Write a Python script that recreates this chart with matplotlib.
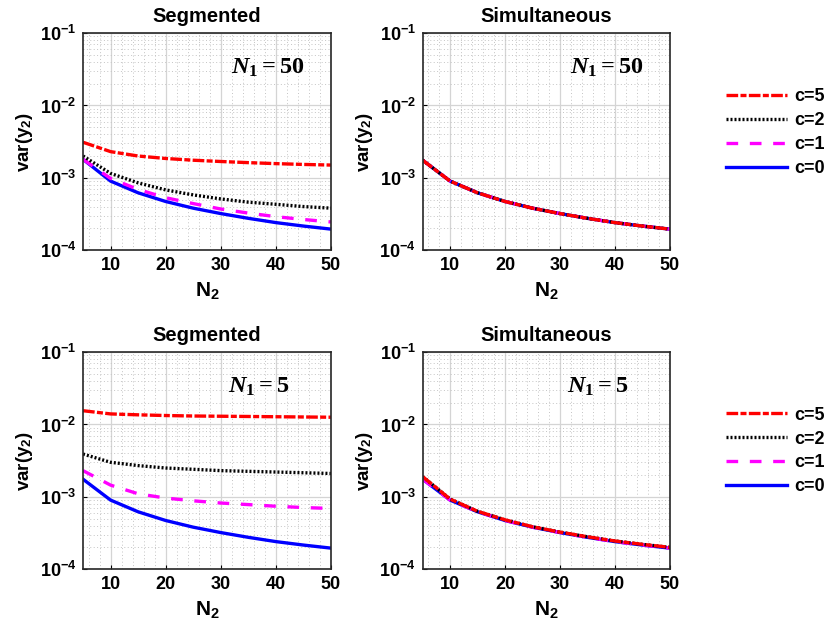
import numpy as np
import matplotlib.pyplot as plt
from matplotlib.ticker import LogLocator, MultipleLocator, FixedLocator, FuncFormatter
from matplotlib.lines import Line2D

plt.rcParams['font.family'] = 'Liberation Sans'
plt.rcParams['font.weight'] = 'bold'
plt.rcParams['mathtext.fontset'] = 'custom'
plt.rcParams['mathtext.rm'] = 'Liberation Serif'
plt.rcParams['mathtext.it'] = 'Liberation Serif:italic'
plt.rcParams['mathtext.bf'] = 'Liberation Sans:bold'

n2 = [5, 10, 15, 20, 25, 30, 35, 40, 45, 50]

# N1 = 50, segmented
seg50_c0 = [1.8e-3, 9.0e-4, 6.2e-4, 4.7e-4, 3.8e-4, 3.2e-4, 2.75e-4, 2.4e-4, 2.15e-4, 1.95e-4]
seg50_c1 = [1.8e-3, 9.8e-4, 6.9e-4, 5.3e-4, 4.4e-4, 3.7e-4, 3.25e-4, 2.9e-4, 2.65e-4, 2.45e-4]
seg50_c2 = [2.0e-3, 1.15e-3, 8.5e-4, 6.8e-4, 5.8e-4, 5.1e-4, 4.6e-4, 4.3e-4, 4.0e-4, 3.8e-4]
seg50_c5 = [3.1e-3, 2.3e-3, 2.0e-3, 1.85e-3, 1.75e-3, 1.68e-3, 1.62e-3, 1.57e-3, 1.53e-3, 1.5e-3]

# N1 = 5, segmented
seg5_c0 = [1.75e-3, 9.0e-4, 6.2e-4, 4.7e-4, 3.8e-4, 3.2e-4, 2.75e-4, 2.4e-4, 2.15e-4, 1.95e-4]
seg5_c1 = [2.3e-3, 1.45e-3, 1.1e-3, 9.6e-4, 8.8e-4, 8.2e-4, 7.8e-4, 7.4e-4, 7.1e-4, 6.9e-4]
seg5_c2 = [3.9e-3, 3.0e-3, 2.7e-3, 2.5e-3, 2.4e-3, 2.3e-3, 2.25e-3, 2.2e-3, 2.15e-3, 2.1e-3]
seg5_c5 = [1.55e-2, 1.4e-2, 1.36e-2, 1.33e-2, 1.31e-2, 1.3e-2, 1.29e-2, 1.28e-2, 1.27e-2, 1.26e-2]

# simultaneous: all c overlap
sim50 = [1.75e-3, 9.0e-4, 6.2e-4, 4.7e-4, 3.8e-4, 3.2e-4, 2.75e-4, 2.4e-4, 2.15e-4, 1.95e-4]
sim5_c0 = [1.75e-3, 9.0e-4, 6.2e-4, 4.7e-4, 3.8e-4, 3.2e-4, 2.75e-4, 2.4e-4, 2.15e-4, 1.95e-4]
sim5_c5 = [1.9e-3, 9.3e-4, 6.3e-4, 4.8e-4, 3.85e-4, 3.25e-4, 2.8e-4, 2.45e-4, 2.2e-4, 2.0e-4]

c_labels = ['c=5', 'c=2', 'c=1', 'c=0']
styles = {
    'c=5': dict(color='#ff0000', ls=(0, (3.5, 0.7, 1.8, 0.7))),
    'c=2': dict(color='black', ls=(0, (0.6, 0.6))),
    'c=1': dict(color='#ff00ff', ls=(0, (3.5, 3.5))),
    'c=0': dict(color='#0000ff', ls='-'),
}
LW = 2.4

panels = [
    ([0.0998, 0.608, 0.298, 0.340], 'Segmented', '$N_1 = 50$', 0.745,
     {'c=0': seg50_c0, 'c=1': seg50_c1, 'c=2': seg50_c2, 'c=5': seg50_c5}),
    ([0.508, 0.608, 0.297, 0.340], 'Simultaneous', '$N_1 = 50$', 0.745,
     {'c=0': sim50, 'c=1': sim50, 'c=2': sim50, 'c=5': sim50}),
    ([0.0998, 0.108, 0.298, 0.340], 'Segmented', '$N_1 = 5$', 0.71,
     {'c=0': seg5_c0, 'c=1': seg5_c1, 'c=2': seg5_c2, 'c=5': seg5_c5}),
    ([0.508, 0.108, 0.297, 0.340], 'Simultaneous', '$N_1 = 5$', 0.71,
     {'c=0': sim5_c0, 'c=1': sim5_c0, 'c=2': sim5_c5, 'c=5': sim5_c5}),
]


def exp_fmt(v, pos):
    e = int(round(np.log10(v)))
    return r'$\mathbf{10^{%d}}$' % e


fig = plt.figure(figsize=(8.32, 6.38), dpi=100)

for rect, title, note, note_x, series in panels:
    ax = fig.add_axes(rect)
    for lab in ['c=0', 'c=1', 'c=2', 'c=5']:
        ax.plot(n2, series[lab], lw=LW, label=lab, **styles[lab])
    ax.set_yscale('log')
    ax.set_xlim(5, 50)
    ax.set_ylim(1e-4, 1e-1)
    ax.xaxis.set_major_locator(FixedLocator([10, 20, 30, 40, 50]))
    ax.xaxis.set_minor_locator(MultipleLocator(2))
    ax.yaxis.set_major_locator(LogLocator(base=10, numticks=10))
    ax.yaxis.set_minor_locator(LogLocator(base=10, subs=np.arange(2, 10), numticks=10))
    ax.yaxis.set_major_formatter(FuncFormatter(exp_fmt))
    ax.yaxis.set_minor_formatter(FuncFormatter(lambda v, p: ''))
    ax.grid(which='major', color='#d4d4d4', lw=0.9, ls='-')
    ax.grid(which='minor', color='#c4c4c4', lw=0.7, ls=(0, (1, 2.5)))
    ax.set_axisbelow(True)
    ax.tick_params(which='both', direction='in', labelsize=13, width=0.8)
    ax.tick_params(which='major', length=3, pad=5)
    ax.tick_params(which='minor', length=0)
    for sp in ax.spines.values():
        sp.set_linewidth(1.2)
        sp.set_color('#262626')
    ax.set_title(title, fontsize=14.5, fontweight='bold', pad=8)
    ax.set_xlabel(r'N$_\mathbf{2}$', fontsize=15, fontweight='bold', labelpad=4)
    ax.set_ylabel(r'var(y$_\mathbf{2}$)', fontsize=13.5, fontweight='bold', labelpad=3)
    ax.text(note_x, 0.84, note, transform=ax.transAxes, fontsize=17.5,
            ha='center', va='center')

handles = [Line2D([], [], lw=LW, **styles[lab]) for lab in c_labels]
for y in [0.792, 0.293]:
    fig.legend(handles, c_labels, loc='center left', bbox_to_anchor=(0.872, y),
               frameon=False, borderpad=0, borderaxespad=0,
               handlelength=3.4, handletextpad=0.4,
               labelspacing=0.38, prop={'weight': 'bold', 'size': 13})

fig.savefig('out.png', dpi=100)
